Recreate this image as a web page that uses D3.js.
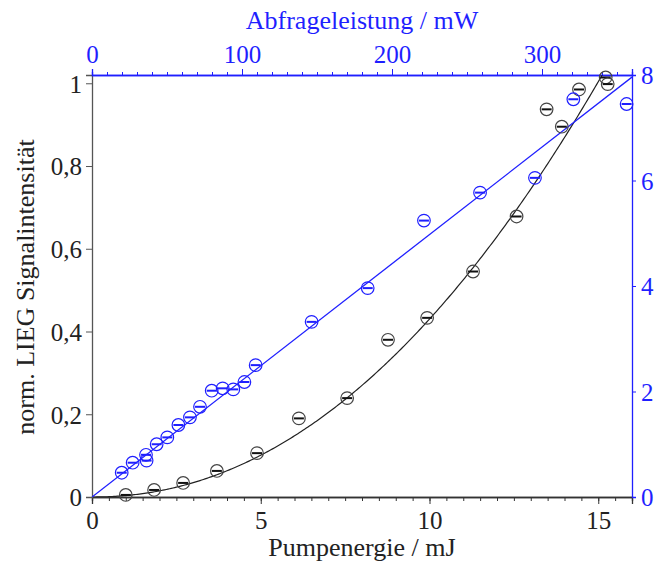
<!DOCTYPE html>
<html><head><meta charset="utf-8">
<script src="https://cdn.jsdelivr.net/npm/d3@7"></script>
<style>body{margin:0;background:#fff}svg{display:block}</style>
</head><body>
<script>
// Pump energy series (black): x in mJ, y normalised LIEG signal
const pumpEnergy = [1.0, 1.84, 2.70, 3.70, 4.89, 6.13, 7.56, 8.77, 9.93, 11.29, 12.58, 13.47, 13.92, 14.43, 15.22, 15.28];
const pumpSignal = [0.005, 0.017, 0.034, 0.063, 0.106, 0.19, 0.239, 0.38, 0.433, 0.545, 0.678, 0.937, 0.895, 0.985, 1.014, 0.998];
// Probe power series (blue): x in mW, y on right axis
const probePower = [19.8, 27.1, 36.0, 36.4, 43.1, 50.2, 57.6, 65.3, 72.0, 79.8, 87.1, 94.2, 101.6, 109.1, 146.4, 183.8, 221.3, 258.7, 295.3, 320.9, 356.4];
const probeSignal = [0.46, 0.65, 0.80, 0.69, 1.00, 1.13, 1.365, 1.51, 1.71, 2.015, 2.06, 2.04, 2.18, 2.50, 3.32, 3.96, 5.24, 5.77, 6.05, 7.54, 7.45];
// Fit parameters
const pumpFit = {a: 0.003496, b: 2.09};       // y = a * x^b
const probeFit = {slope: 7.96 / 360};         // y = slope * x
// Tick labels
const bottomTicks = [0, 5, 10, 15];
const leftTicks = [0, 0.2, 0.4, 0.6, 0.8, 1];
const leftTickLabels = ["0", "0,2", "0,4", "0,6", "0,8", "1"];
const topTicks = [0, 100, 200, 300];
const rightTicks = [0, 2, 4, 6, 8];

const W = 654, H = 561;
const L = 92, R = 632, T = 75, B = 497;
const blue = "#1f1fff", black = "#222";
const font = "'Liberation Serif', 'Times New Roman', serif";
const tickFont = 25, titleFont = 26;

const svg = d3.select("body").append("svg").attr("width", W).attr("height", H)
  .style("font-family", font);

const x = d3.scaleLinear().domain([0, 16]).range([L, R]);
const y = d3.scaleLinear().domain([0, 1.02]).range([B, T]);
const x2 = d3.scaleLinear().domain([0, 360]).range([L, R]);
const y2 = d3.scaleLinear().domain([0, 8]).range([B, T]);

svg.append("defs").append("clipPath").attr("id", "clip")
  .append("rect").attr("x", L).attr("y", T).attr("width", R - L).attr("height", B - T);

function styleAxis(g, color, size) {
  g.selectAll("path").attr("stroke", color).attr("stroke-width", 1.3);
  g.selectAll("line").attr("stroke", color).attr("stroke-width", 1);
  g.selectAll("text").attr("fill", color).style("font-size", size + "px").style("font-family", font);
}
// bottom
svg.append("g").attr("transform", `translate(0,${B})`)
  .call(d3.axisBottom(x).tickValues(d3.range(0, 16.01, 0.5)).tickSize(4).tickFormat(""))
  .call(g => styleAxis(g, "#333", tickFont));
svg.append("g").attr("transform", `translate(0,${B})`)
  .call(d3.axisBottom(x).tickValues(bottomTicks).tickSize(7).tickPadding(7).tickFormat(d3.format("d")))
  .call(g => { styleAxis(g, "#333", tickFont); g.selectAll("text").attr("fill", "#222"); });
// left
svg.append("g").attr("transform", `translate(${L},0)`)
  .call(d3.axisLeft(y).tickValues(leftTicks).tickSize(6).tickPadding(4).tickFormat((d, i) => leftTickLabels[i]))
  .call(g => { styleAxis(g, "#555", tickFont); g.selectAll("text").attr("fill", "#222").attr("dy", "0.35em"); });
// top
svg.append("g").attr("transform", `translate(0,${T})`)
  .call(d3.axisTop(x2).tickValues(d3.range(0, 360.1, 10)).tickSize(3).tickFormat(""))
  .call(g => styleAxis(g, blue, tickFont));
svg.append("g").attr("transform", `translate(0,${T})`)
  .call(d3.axisTop(x2).tickValues(topTicks).tickSize(6).tickPadding(6).tickFormat(d3.format("d")))
  .call(g => styleAxis(g, blue, tickFont));
// right
svg.append("g").attr("transform", `translate(${R},0)`)
  .call(d3.axisRight(y2).tickValues(rightTicks).tickSize(4).tickPadding(5).tickFormat(d3.format("d")))
  .call(g => { styleAxis(g, blue, tickFont); g.selectAll("text").attr("dy", "0.35em"); });

// Titles
svg.append("text").attr("x", (L + R) / 2).attr("y", 556).attr("text-anchor", "middle")
  .style("font-size", titleFont + "px").attr("fill", "#222").text("Pumpenergie / mJ");
svg.append("text").attr("x", (L + R) / 2).attr("y", 29).attr("text-anchor", "middle")
  .style("font-size", titleFont + "px").attr("fill", blue).text("Abfrageleistung / mW");
svg.append("text").attr("transform", "translate(34,287) rotate(-90)").attr("text-anchor", "middle")
  .style("font-size", titleFont + "px").attr("fill", "#222").text("norm. LIEG Signalintensität");

const plot = svg.append("g").attr("clip-path", "url(#clip)");

// Fit lines
const xs = d3.range(0, 16.01, 0.05);
plot.append("path").datum(xs)
  .attr("d", d3.line().x(d => x(d)).y(d => y(pumpFit.a * Math.pow(d, pumpFit.b))))
  .attr("fill", "none").attr("stroke", black).attr("stroke-width", 1.2);
plot.append("path").datum([0, 360])
  .attr("d", d3.line().x(d => x2(d)).y(d => y2(probeFit.slope * d)))
  .attr("fill", "none").attr("stroke", blue).attr("stroke-width", 1.3);

// Markers
function markers(xv, yv, sx, sy, color, ring) {
  const g = svg.append("g");
  xv.forEach((v, i) => {
    const cx = sx(v), cy = sy(yv[i]);
    g.append("circle").attr("cx", cx).attr("cy", cy).attr("r", 6.3)
      .attr("fill", "none").attr("stroke", ring).attr("stroke-width", 1.2);
    g.append("line").attr("x1", cx - 5).attr("x2", cx + 5).attr("y1", cy).attr("y2", cy)
      .attr("stroke", color).attr("stroke-width", 2);
  });
}
markers(pumpEnergy, pumpSignal, x, y, "#111", "#444");
markers(probePower, probeSignal, x2, y2, blue, blue);
</script>
</body></html>
